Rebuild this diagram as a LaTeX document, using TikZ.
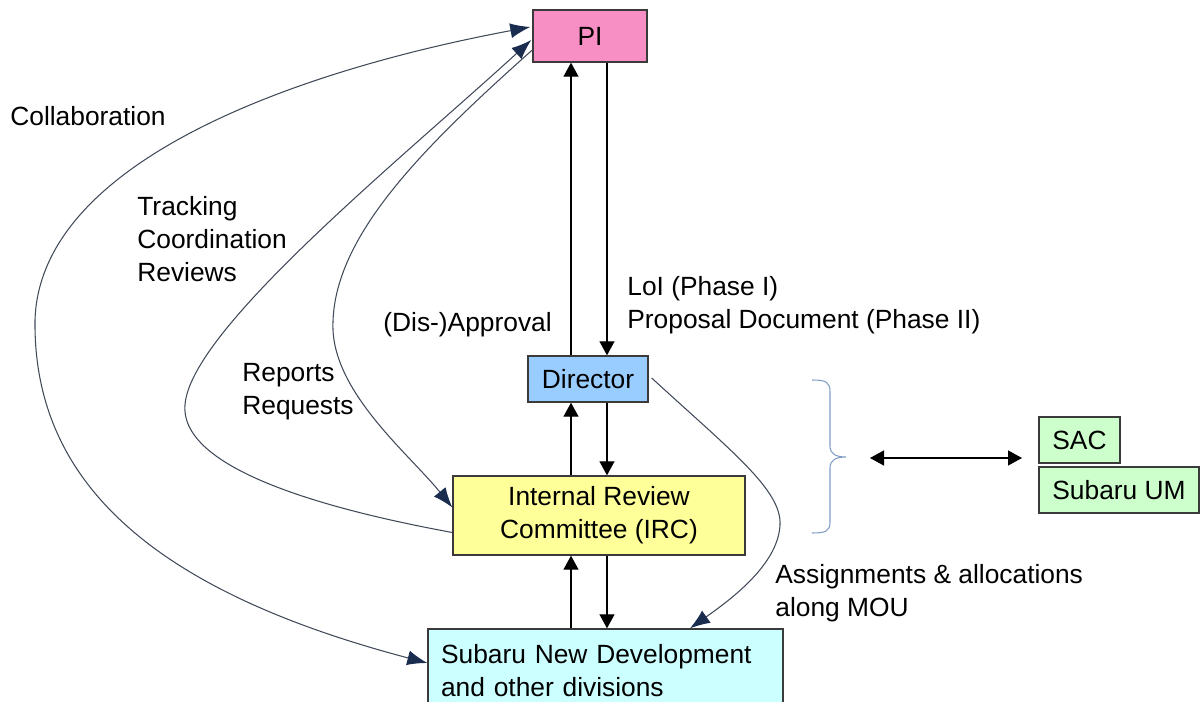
\documentclass[tikz,border=0pt]{standalone}
\usepackage{fontspec}
\setmainfont{Liberation Sans}
\usetikzlibrary{arrows.meta,calc}
\definecolor{pipink}{HTML}{F78FC4}
\definecolor{dirblue}{HTML}{99CCFF}
\definecolor{ircyellow}{HTML}{FFFF99}
\definecolor{devcyan}{HTML}{CCFFFF}
\definecolor{umgreen}{HTML}{CCFFCC}
\definecolor{boxline}{HTML}{3A3A3A}
\definecolor{curveline}{HTML}{404A58}
\definecolor{tipnavy}{HTML}{1B2D4F}
\definecolor{bracecol}{HTML}{7F9CC5}
\tikzset{navyhead/.tip={Latex[length=0.4cm,width=0.3cm,color=tipnavy]},
  blackhead/.tip={Triangle[length=0.28cm,width=0.3cm]}}
\begin{document}
\begin{tikzpicture}[x=0.02cm,y=-0.02cm]
	\tikzstyle{every node}+=[inner sep=0pt, font=\fontsize{15}{18.7}\selectfont]
	\tikzstyle{box}=[draw=boxline, line width=0.8pt, align=center]
	\tikzstyle{flow}=[black, line width=0.75pt, -{blackhead}]
	\tikzstyle{curvy}=[curveline, line width=0.6pt]
	\useasboundingbox (0,0) rectangle (1200,702);
	\node [box, fill=pipink, minimum width=2.28cm, minimum height=1.04cm] (pi) at (590,36) {PI};
	\node [box, fill=dirblue, minimum width=2.4cm, minimum height=0.92cm] (director) at (588,379) {Director};
	\node [box, fill=ircyellow, minimum width=5.84cm, minimum height=1.58cm] (irc) at (599,515.5) {Internal Review\\Committee (IRC)};
	\node [box, fill=devcyan, align=left, text width=6.58cm, inner xsep=0.26cm, minimum height=1.68cm] (subnd) at (605.5,671) {Subaru New Development\\and other divisions};
	\node [box, fill=umgreen, minimum width=1.62cm, minimum height=0.92cm] (sac) at (1079.5,440) {SAC};
	\node [box, fill=umgreen, minimum width=3.2cm, minimum height=0.92cm] (um) at (1119,490) {Subaru UM};
	\node [anchor=west] (collab) at (10,116) {Collaboration};
	\node [anchor=north west, align=left] (track) at (137,196) {Tracking\\Coordination\\Reviews};
	\node [anchor=base west] (approval) at (383,332) {(Dis-)Approval};
	\node [anchor=north west, align=left] (loi) at (627,276) {LoI (Phase I)\\Proposal Document (Phase II)};
	\node [anchor=north west, align=left] (reports) at (242,363) {Reports\\Requests};
	\node [anchor=north west, align=left] (assign) at (775,564) {Assignments \& allocations\\along MOU};
	\coordinate (upx) at (571,0);
	\coordinate (dnx) at (607,0);
	\draw [flow] (upx |- director.north) -- (upx |- pi.south);
	\draw [flow] (dnx |- pi.south) -- (dnx |- director.north);
	\draw [flow] (upx |- irc.north) -- (upx |- director.south);
	\draw [flow] (dnx |- director.south) -- (dnx |- irc.north);
	\draw [flow] (upx |- subnd.north) -- (upx |- irc.south);
	\draw [flow] (dnx |- irc.south) -- (dnx |- subnd.north);
	\draw [curvy, {navyhead}-{navyhead}] ($(pi.west)+(-2,-9)$) .. controls (300,70) and (40,160) .. (35,320) .. controls (33,480) and (150,590) .. ($(subnd.west)+(0,-8)$);
	\draw [curvy, {navyhead}-] ($(pi.west)+(-1,4)$) .. controls (400,160) and (190,330) .. (185,405) .. controls (180,470) and (330,510) .. ($(irc.west)+(0,17)$);
	\draw [curvy, -{navyhead}] ($(pi.west)+(0,14)$) .. controls (420,150) and (330,240) .. (333,330) .. controls (336,395) and (410,455) .. ($(irc.west)+(0,-8)$);
	\draw [curvy, -{navyhead}] ($(director.east)+(3,-1)$) .. controls (730,450) and (782,490) .. (780,525) .. controls (778,565) and (730,600) .. ($(subnd.north)+(84.5,0)$);
	\draw [bracecol, line width=0.6pt] (812,380) .. controls (826,380) and (830,382) .. (830,392) -- (830,446) .. controls (830,454) and (836,457) .. (846,457) .. controls (836,457) and (830,460) .. (830,468) -- (830,522) .. controls (830,531) and (826,533) .. (812,533);
	\coordinate (linkl) at (870,458);
	\coordinate (linkr) at (1022,458);
	\draw [flow, {blackhead}-{blackhead}] (linkl) -- (linkr);
\end{tikzpicture}
\end{document}
